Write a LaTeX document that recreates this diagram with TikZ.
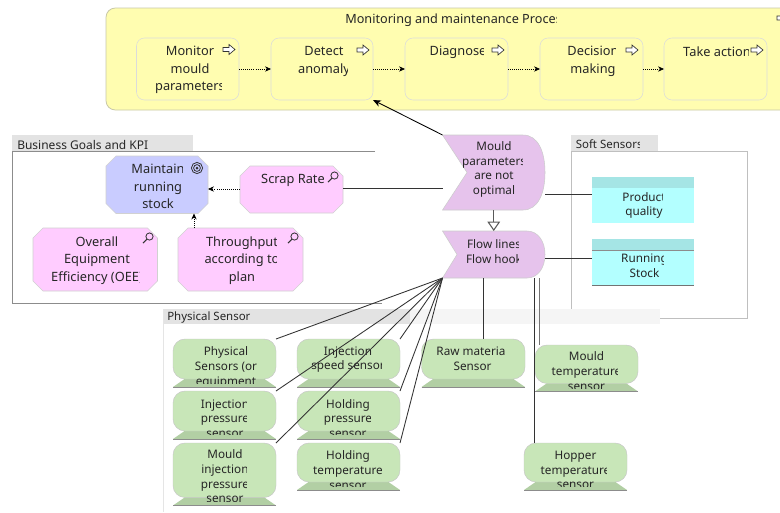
\documentclass[tikz,border=0pt]{standalone}
\usepackage{fontspec}
\setmainfont{Noto Sans}
\usetikzlibrary{arrows.meta,fit}
\definecolor{txt}{HTML}{262626}
\definecolor{procY}{HTML}{FFFDB0}
\definecolor{procE}{HTML}{C9C9A8}
\definecolor{goalB}{HTML}{C9CCFF}
\definecolor{kpiP}{HTML}{FFCCFF}
\definecolor{eventP}{HTML}{E6C3EC}
\definecolor{tabG}{HTML}{E3E3E3}
\definecolor{softB}{HTML}{B3FFFF}
\definecolor{softH}{HTML}{A5E5E5}
\definecolor{senG}{HTML}{C8E6B8}
\definecolor{senB}{HTML}{B2CFA4}
\tikzset{
  x=0.75pt,y=-0.75pt,
  anchorbox/.style={inner sep=0pt,outer sep=0pt,draw=none},
  bigtext/.style={inner sep=0pt,align=center,text=txt,font=\fontsize{9.6}{13.1}\selectfont},
  smalltext/.style={inner sep=0pt,align=center,text=txt,font=\fontsize{8.8}{11}\selectfont},
  tabtext/.style={inner sep=0pt,anchor=west,text=txt,font=\fontsize{9}{11}\selectfont},
  flowlink/.style={draw=black,line width=0.55pt,densely dotted,-{Stealth[length=4.5pt,width=4pt]}},
  conn/.style={draw=black!80,line width=0.65pt},
  connarrow/.style={draw=black,line width=0.65pt,-{Stealth[length=6pt,width=5pt]}},
  openarrow/.style={draw=black!65,line width=0.8pt,-{Triangle[open,fill=white,length=7pt,width=9.5pt]}},
  icon/.style={draw=black!80,line width=0.5pt},
  substep/.style={draw=black!14,line width=0.4pt,rounded corners=6pt},
}
% name, x0, y0, x1, y1
\newcommand{\regbox}[5]{\node[anchorbox,fit={(#2,#3)(#4,#5)}] (#1) {};}
% clipped text: name, style, x, y, clip x1, clip y1, text
\newcommand{\ctext}[7]{\begin{scope}\clip (0,0) rectangle (#5,#6);\node[#2] (#1) at (#3,#4) {#7};\end{scope}}
\newcommand{\procstep}[7]{% name x0 x1 textx clipx icony text
  \regbox{#1}{#2}{38}{#3}{100}
  \draw[substep] (#2,38) rectangle (#3,100);
  \ctext{#1-t}{bigtext}{#4}{#6}{#5}{110}{#7}}
\newcommand{\arrowicon}[2]{\begin{scope}[shift={(#1,#2)}]
  \draw[icon,fill=white,line join=miter] (-6,-2) -- (0,-2) -- (0,-5) -- (6,0) -- (0,5) -- (0,2) -- (-6,2) -- cycle;\end{scope}}
\newcommand{\lensicon}[2]{\begin{scope}[shift={(#1,#2)}]
  \draw[icon,line width=0.6pt] (1.5,-1.5) circle (3.6);
  \draw[icon,line width=0.8pt] (-1,1) -- (-5,5);\end{scope}}
\newcommand{\octa}[7]{% name x0 y0 x1 y1 cut fill
  \regbox{#1}{#2}{#3}{#4}{#5}
  \fill[#7] (#2+#6,#3) -- (#4-#6,#3) -- (#4,#3+#6) -- (#4,#5-#6) -- (#4-#6,#5) -- (#2+#6,#5) -- (#2,#5-#6) -- (#2,#3+#6) -- cycle;
  \draw[black!18,line width=0.4pt] (#2+#6,#3) -- (#4-#6,#3) -- (#4,#3+#6) -- (#4,#5-#6) -- (#4-#6,#5) -- (#2+#6,#5) -- (#2,#5-#6) -- (#2,#3+#6) -- cycle;}
\newcommand{\eventshape}[7]{% name x0 y0 x1 y1 notchx curvex
  \regbox{#1}{#2}{#3}{#4}{#5}
  \fill[eventP,draw=black!20,line width=0.4pt] (#2,#3) -- (#7,#3)
    .. controls (#4-7,#3) and (#4,#3+0.22*#5-0.22*#3) .. (#4,#3+0.5*#5-0.5*#3)
    .. controls (#4,#3+0.78*#5-0.78*#3) and (#4-7,#5) .. (#7,#5)
    -- (#2,#5) -- (#6,#3+0.5*#5-0.5*#3) -- cycle;}
\newcommand{\softbox}[6]{% name x0 y0 x1 y1 extra
  \regbox{#1}{#2}{#3}{#4}{#5}
  \fill[softB] (#2,#3) rectangle (#4,#5);
  \fill[softH] (#2,#3) rectangle (#4,#3+11);#6}
\newcommand{\sensorshape}[5]{% name x0 y0 x1 y1
  \regbox{#1}{#2}{#3}{#4}{#5}
  \fill[senB] (#2,#5) -- (#2+13,#5-9) -- (#4-13,#5-9) -- (#4,#5) -- cycle;
  \draw[black!45,line width=0.5pt] (#2,#5) -- (#4,#5);
  \fill[senG,draw=black!22,line width=0.35pt,rounded corners=9pt] (#2,#3) rectangle (#4,#5-8);}
\begin{document}
\begin{tikzpicture}
\useasboundingbox (0,0) rectangle (780,512);
\fill[white] (0,0) rectangle (780,512);

% process band
\begin{scope}
\clip (0,0) rectangle (780,512);
\regbox{process}{106}{8}{790}{110}
\fill[procY,draw=procE,line width=0.6pt,rounded corners=7pt] (106,8) rectangle (790,110);
\end{scope}
\ctext{ptitle}{tabtext,font=\fontsize{9.5}{12}\selectfont}{345}{20.5}{556}{40}{Monitoring and maintenance Process}
\procstep{monitor}{136.5}{239}{190}{221}{70}{Monitor\\mould\\parameters}
\procstep{detect}{271}{373}{324}{347}{61.5}{Detect\\anomaly}
\procstep{diagnose}{405}{508}{458}{483}{52}{Diagnose}
\procstep{decision}{540}{643}{593}{615.5}{61.5}{Decision\\making}
\procstep{action}{664}{767}{717}{748}{52}{Take action}
\arrowicon{229}{49.5}\arrowicon{363}{50}\arrowicon{498}{50}\arrowicon{632}{50}\arrowicon{757}{50}
\begin{scope}\clip (0,0) rectangle (780,512);\arrowicon{783}{18}\end{scope}
\draw[flowlink] (monitor.east) -- (detect.west);
\draw[flowlink] (detect.east) -- (diagnose.west);
\draw[flowlink] (diagnose.east) -- (decision.west);
\draw[flowlink] (decision.east) -- (action.west);

% business goals
\fill[tabG] (12,135) rectangle (193,151);
\draw[black!45,line width=0.5pt] (375,151) -- (12.5,151) -- (12.5,303) -- (382,303);
\ctext{bgtitle}{tabtext}{17}{145}{160}{160}{Business Goals and KPI}
\octa{maintain}{106}{156}{208}{213.5}{10}{goalB}
\ctext{maintain-t}{bigtext}{158}{186.5}{182}{213}{Maintain\\running\\stock}
\draw[icon,line width=0.6pt] (197,168) circle (5.6) circle (3.4);
\fill[black!80] (197,168) circle (1.5);
\octa{scrap}{240}{166}{343}{213}{10}{kpiP}
\ctext{scrap-t}{bigtext}{293}{180.5}{323}{213}{Scrap Rate}
\lensicon{333}{177}
\octa{oee}{33}{228}{157.5}{291}{10}{kpiP}
\ctext{oee-t}{bigtext}{97}{260.5}{139}{291}{Overall\\Equipment\\Efficiency (OEE)}
\lensicon{148}{238}
\octa{through}{178}{228}{303}{291}{10}{kpiP}
\ctext{through-t}{bigtext}{242}{260.5}{276.5}{291}{Throughput\\according to\\plan}
\lensicon{293}{238}
\draw[flowlink] (scrap.west |- 0,189) -- (maintain.east |- 0,189);
\coordinate (thr) at (194,228);
\draw[flowlink] (thr) -- (thr |- maintain.south);

% soft sensors
\fill[tabG] (571,135) rectangle (658,151);
\draw[black!25,fill=white,line width=0.6pt] (571,151) rectangle (747,318);
\ctext{softtitle}{tabtext,font=\fontsize{8.6}{11}\selectfont}{575.5}{144}{639}{160}{Soft Sensors}
\softbox{product}{592}{177}{694}{223}{}
\ctext{product-t}{smalltext}{644}{205.5}{662}{223}{Product\\quality}
\softbox{running}{592}{239}{694}{285}{\draw[black!45,line width=0.7pt] (592,250.5) -- (694,250.5);\draw[black!55,line width=0.6pt] (592,285) -- (694,285);}
\ctext{running-t}{smalltext}{644.5}{265.5}{663}{285}{Running\\Stock}

% physical sensors
\fill[black!4] (163,309) rectangle (660,324);
\fill[tabG] (163,309) rectangle (410,324);
\draw[black!10,line width=0.6pt] (163.5,309) -- (163.5,512);
\ctext{phystitle}{tabtext,font=\fontsize{8.6}{11}\selectfont}{167}{317.5}{300}{330}{Physical Sensor}

% events
\eventshape{mould}{442.5}{135}{545}{210}{467}{523}
\ctext{mould-t}{smalltext}{494}{169.5}{522}{210}{Mould\\parameters\\are not\\optimal}
\eventshape{flow}{442.5}{231}{545}{278}{457}{527}
\ctext{flow-t}{smalltext}{494}{251.5}{518}{278}{Flow lines\\Flow hook}

% sensors
\sensorshape{s1}{173}{339}{276}{387}
\ctext{s1-t}{smalltext}{226}{367.5}{276}{383.5}{Physical\\Sensors (or\\equipment}
\sensorshape{s2}{297}{339}{400}{387}
\ctext{s2-t}{smalltext}{348}{359.5}{381}{385}{Injection\\speed sensor}
\sensorshape{s3}{173}{391}{276}{439}
\ctext{s3-t}{smalltext}{225}{418.5}{246}{434}{Injection\\pressure\\sensor}
\sensorshape{s4}{297}{391}{400}{439}
\ctext{s4-t}{smalltext}{348}{418.5}{370}{434}{Holding\\pressure\\sensor}
\sensorshape{s5}{173}{443}{276}{505.5}
\ctext{s5-t}{smalltext}{225}{476.5}{246}{501.5}{Mould\\injection\\pressure\\sensor}
\sensorshape{s6}{297}{443}{400}{490}
\ctext{s6-t}{smalltext}{348}{470}{381}{486}{Holding\\temperature\\sensor}
\sensorshape{raw}{421.5}{339}{525}{387}
\ctext{raw-t}{smalltext}{472.5}{358.5}{505}{385}{Raw material\\Sensor}
\sensorshape{mtemp}{535}{345}{638}{391.5}
\ctext{mtemp-t}{smalltext}{586.5}{371}{617}{388}{Mould\\temperature\\sensor}
\sensorshape{hopper}{524}{443}{627}{490}
\ctext{hopper-t}{smalltext}{575.5}{470}{606.5}{486}{Hopper\\temperature\\sensor}

% connectors
\draw[connarrow] (mould.north west) -- (detect.south east);
\coordinate (sc) at (343,188);
\draw[conn] (sc) -- (sc -| mould.west);
\coordinate (ms) at (545,194);
\draw[conn] (ms) -- (ms -| product.west);
\coordinate (fs) at (545,258);
\draw[conn] (fs) -- (fs -| running.west);
\draw[openarrow] (mould.south) -- (flow.north);
\draw[conn] (flow.south west) -- (s1.north east);
\draw[conn] (flow.south west) -- (s2.north east);
\draw[conn] (flow.south west) -- (s3.north east);
\draw[conn] (flow.south west) -- (s4.north east);
\draw[conn] (flow.south west) -- (s5.north east);
\draw[conn] (flow.south west) -- (s6.north east);
\coordinate (fr) at (483,278);
\draw[conn,line width=0.75pt] (fr) -- (fr |- raw.north);
\coordinate (fm) at (539.5,278);
\draw[conn,draw=black!55,line width=1pt] (fm) -- (fm |- mtemp.north);
\coordinate (fh) at (534,278);
\draw[conn] (fh) -- (fh |- hopper.north);
\end{tikzpicture}
\end{document}
